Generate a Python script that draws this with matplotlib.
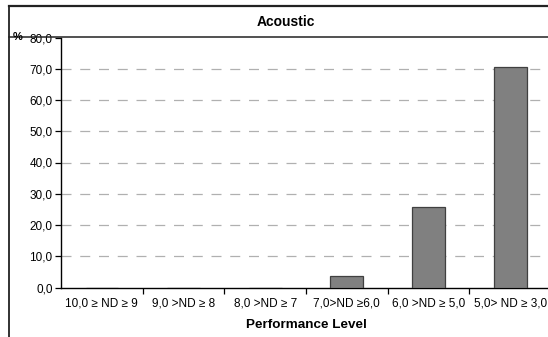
import matplotlib
matplotlib.use("Agg")
import matplotlib.pyplot as plt
from matplotlib.lines import Line2D
import numpy as np

categories = ["10,0 \u2265 ND \u2265 9", "9,0 >ND \u2265 8", "8,0 >ND \u2265 7",
              "7,0>ND \u22656,0", "6,0 >ND \u2265 5,0", "5,0> ND \u2265 3,0"]
values = [0.0, 0.0, 0.0, 3.7, 25.9, 70.4]
yticks = [0, 10, 20, 30, 40, 50, 60, 70, 80]
ytick_labels = ["0,0", "10,0", "20,0", "30,0", "40,0", "50,0", "60,0", "70,0", "80,0"]

plt.rcParams['font.family'] = ['Liberation Sans', 'DejaVu Sans']

W, H = 548, 337
fig = plt.figure(figsize=(W / 100, H / 100), dpi=100)

x0, x1 = 61, 551
ytop, ybot = 37.5, 287.5
ax = fig.add_axes([x0 / W, (H - ybot) / H, (x1 - x0) / W, (ybot - ytop) / H])

x = np.arange(len(categories))
ax.bar(x, values, width=0.4, color="#808080", edgecolor="#404040", linewidth=0.9, zorder=3)

ax.set_xlim(-0.5, len(categories) - 0.5)
ax.set_ylim(0, 80)
ax.set_yticks(yticks)
ax.set_yticklabels(ytick_labels, fontsize=8.5)
ax.set_xticks(x)
ax.set_xticklabels(categories, fontsize=8.5)
ax.tick_params(axis='x', which='major', length=0, pad=7)
ax.set_xticks(np.arange(0.5, len(categories) - 0.5, 1), minor=True)
ax.tick_params(axis='x', which='minor', length=4, width=0.9, direction='out')
ax.tick_params(axis='y', length=4, width=0.9, direction='out', pad=2)

for yv in yticks[1:-1]:
    ax.axhline(yv, color="#b0b0b0", linewidth=0.9, linestyle=(0, (8, 7)), zorder=1)

for s in ["top", "right"]:
    ax.spines[s].set_visible(False)
for s in ["left", "bottom"]:
    ax.spines[s].set_linewidth(1.0)
    ax.spines[s].set_color("#000000")

ax.set_xlabel("Performance Level", fontsize=9.7, fontweight="bold", labelpad=7)

# Figure-level decorations: outer border and title box
def fx(px):
    return px / W

def fy(py):
    return 1 - py / H

fig.add_artist(Line2D([fx(9), fx(548)], [fy(6), fy(6)], color="#222222", linewidth=1.6))
fig.add_artist(Line2D([fx(9), fx(9)], [fy(6), fy(337)], color="#222222", linewidth=1.3))
fig.add_artist(Line2D([fx(9), fx(548)], [fy(37.3), fy(37.3)], color="#222222", linewidth=1.1))

fig.text(fx(286), fy(21.5), "Acoustic", fontsize=10, fontweight="bold", ha="center", va="center")
fig.text(fx(18), fy(37.5), "%", fontsize=8, fontweight="bold", ha="center", va="center")

fig.savefig("out.png", dpi=100)
